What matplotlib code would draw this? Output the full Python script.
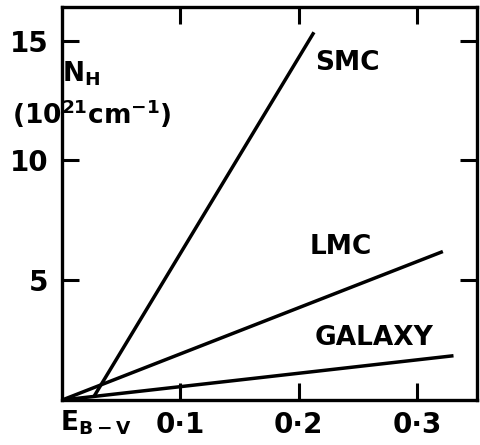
import matplotlib
matplotlib.use('Agg')
import matplotlib.pyplot as plt

# reddening E(B-V) vs hydrogen column N_H (10^21 cm^-1)
smc_ebv = [0.027, 0.213]
smc_nh = [0.15, 15.35]
lmc_ebv = [0.0, 0.322]
lmc_nh = [0.0, 6.2]
gal_ebv = [0.0, 0.331]
gal_nh = [0.0, 1.85]

x_ticks = [0.1, 0.2, 0.3]
x_labels = ['0·1', '0·2', '0·3']
y_ticks = [5, 10, 15]
y_labels = ['5', '10', '15']

plt.rcParams['font.family'] = 'DejaVu Sans'
plt.rcParams['font.weight'] = 'bold'
plt.rcParams['mathtext.default'] = 'bf'

fig = plt.figure(figsize=(4.81, 4.45), dpi=100)
ax = fig.add_axes([0.129, 0.101, 0.863, 0.883])

for xs, ys in [(smc_ebv, smc_nh), (lmc_ebv, lmc_nh), (gal_ebv, gal_nh)]:
    ax.plot(xs, ys, color='black', lw=2.5, solid_capstyle='butt')

ax.set_xlim(0, 0.351)
ax.set_ylim(0, 16.4)
ax.set_xticks(x_ticks)
ax.set_xticklabels(x_labels)
ax.set_yticks(y_ticks)
ax.set_yticklabels(y_labels)
ax.tick_params(direction='in', length=12, width=2.2, labelsize=20,
               top=True, right=True, pad=10)
ax.tick_params(axis='x', pad=8)
for sp in ax.spines.values():
    sp.set_linewidth(2.4)

ax.text(0.2136, 14.05, 'SMC', fontsize=19, va='center', ha='left')
ax.text(0.209, 6.4, 'LMC', fontsize=19, va='center', ha='left')
ax.text(0.2136, 2.6, 'GALAXY', fontsize=19, va='center', ha='left')

ax.text(0.0, 13.6, 'N$_{H}$', fontsize=19, va='center', ha='left', clip_on=False)
ax.text(-0.042, 11.95, '(10$^{21}$cm$^{-1}$)', fontsize=19, va='center',
        ha='left', clip_on=False)
ax.text(-0.002, -0.35, 'E$_{B-V}$', fontsize=19, va='top', ha='left',
        clip_on=False)

fig.savefig('out.png', dpi=100)
